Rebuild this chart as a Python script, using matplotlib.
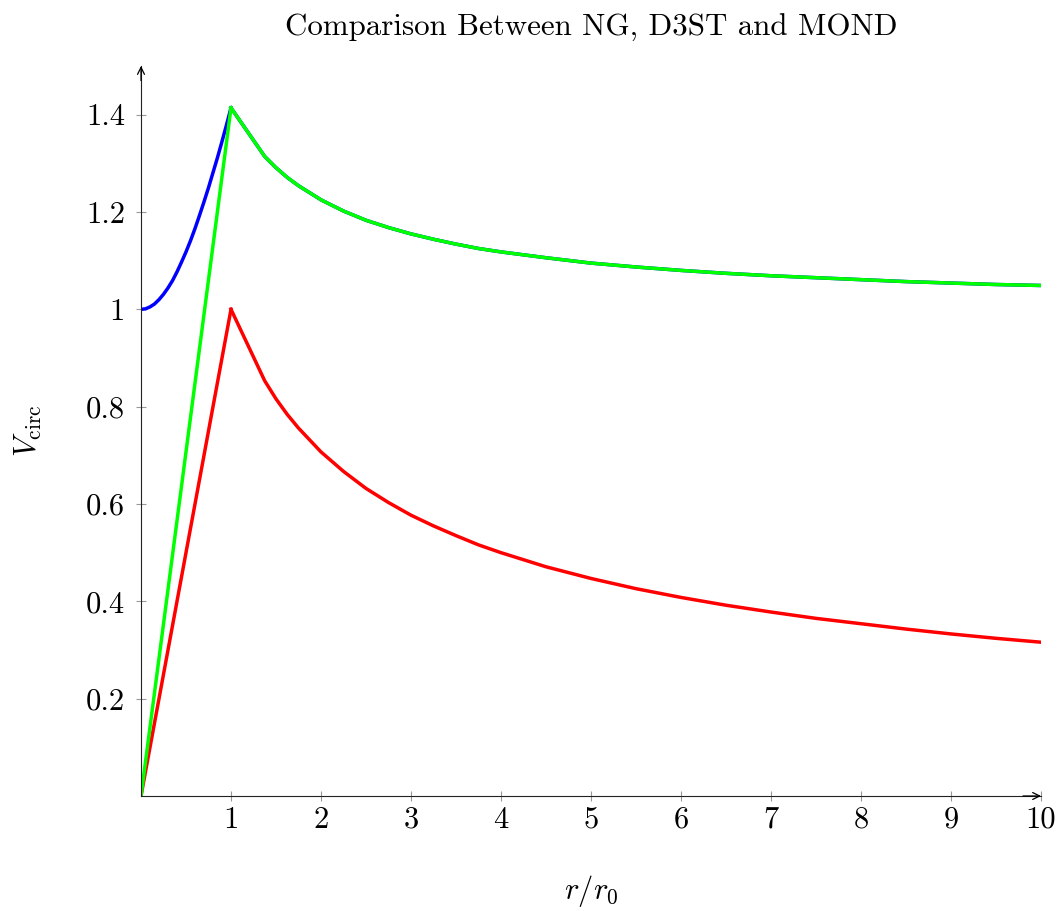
import matplotlib
matplotlib.use("Agg")
import matplotlib.pyplot as plt

plt.rcParams['font.family'] = ['cmr10', 'DejaVu Serif']
plt.rcParams['mathtext.fontset'] = 'cm'
plt.rcParams['axes.formatter.use_mathtext'] = True

# inner region r < 1
r_in = [0.0, 0.05, 0.1, 0.15, 0.2, 0.25, 0.3, 0.35, 0.4, 0.45, 0.5,
        0.55, 0.6, 0.65, 0.7, 0.75, 0.8, 0.85, 0.9, 0.95, 1.0]
d3st_in = [1.000, 1.001, 1.005, 1.011, 1.020, 1.031, 1.044, 1.059, 1.077, 1.097, 1.118,
           1.141, 1.166, 1.193, 1.221, 1.250, 1.281, 1.312, 1.345, 1.379, 1.414]
r_lin = [0.0, 1.0]
ng_in = [0.0, 1.0]
mond_in = [0.0, 1.414]

# outer region r >= 1
r_out = [1.0, 1.375, 1.5, 1.625, 1.75, 2.0, 2.25, 2.5, 2.75, 3.0, 3.25, 3.5, 3.75,
         4.0, 4.5, 5.0, 5.5, 6.0, 6.5, 7.0, 7.5, 8.0, 8.5, 9.0, 9.5, 10.0]
ng_out = [1.000, 0.853, 0.816, 0.784, 0.756, 0.707, 0.667, 0.632, 0.603, 0.577, 0.555, 0.535, 0.516,
          0.500, 0.471, 0.447, 0.426, 0.408, 0.392, 0.378, 0.365, 0.354, 0.343, 0.333, 0.324, 0.316]
mond_out = [1.414, 1.314, 1.291, 1.271, 1.254, 1.225, 1.202, 1.183, 1.168, 1.155, 1.144, 1.134, 1.125,
            1.118, 1.106, 1.095, 1.087, 1.080, 1.074, 1.069, 1.065, 1.061, 1.057, 1.054, 1.051, 1.049]

xticks = [1, 2, 3, 4, 5, 6, 7, 8, 9, 10]
yticks = [0.2, 0.4, 0.6, 0.8, 1.0, 1.2, 1.4]
ytick_labels = ['0.2', '0.4', '0.6', '0.8', '1', '1.2', '1.4']

fig = plt.figure(figsize=(10.61, 9.11), dpi=100)
ax = fig.add_axes([141/1061, 1 - 796/911, 900/1061, 730/911])

lw = 2.5
ax.plot(r_in, d3st_in, color='#0000ff', lw=lw)
ax.plot(r_out, mond_out, color='#0000ff', lw=lw)
ax.plot(r_lin, ng_in, color='#ff0000', lw=lw)
ax.plot(r_out, ng_out, color='#ff0000', lw=lw)
ax.plot(r_lin, mond_in, color='#00ff00', lw=lw)
ax.plot(r_out, mond_out, color='#00ff00', lw=lw)

ax.set_xlim(0, 10)
ax.set_ylim(0, 1.5)
ax.spines['top'].set_visible(False)
ax.spines['right'].set_visible(False)
for s in ('left', 'bottom'):
    ax.spines[s].set_linewidth(0.8)
    ax.spines[s].set_color('#222222')

# arrow heads at the end of both axis lines
arr = dict(arrowstyle='->, head_length=0.5, head_width=0.25', color='black', lw=0.9,
           shrinkA=0, shrinkB=0)
ax.annotate('', xy=(1.0, 0), xytext=(0.98, 0), xycoords='axes fraction',
            arrowprops=arr, annotation_clip=False)
ax.annotate('', xy=(0, 1.0), xytext=(0, 0.98), xycoords='axes fraction',
            arrowprops=arr, annotation_clip=False)

ax.set_xticks(xticks)
ax.set_xticklabels([str(t) for t in xticks])
ax.set_yticks(yticks)
ax.set_yticklabels(ytick_labels)
ax.tick_params(direction='inout', length=7, width=0.8, color='#999999', labelsize=22)
ax.tick_params(axis='x', pad=4)
ax.tick_params(axis='y', pad=8)

ax.set_title('Comparison Between NG, D3ST and MOND', fontsize=22.3, pad=22)
ax.set_xlabel(r'$r/r_0$', fontsize=22, labelpad=28)
ax.set_ylabel(r'$V_{\rm circ}$', fontsize=22, labelpad=30)

fig.savefig('out.png', dpi=100)
